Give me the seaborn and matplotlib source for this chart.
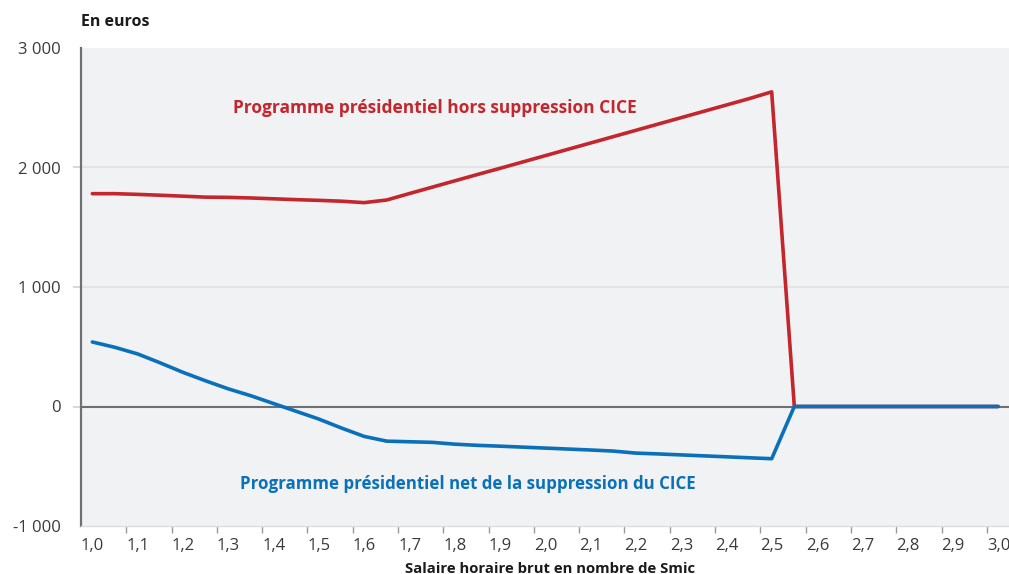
"""Programme présidentiel : gain par salarié selon le salaire horaire brut."""
import matplotlib.pyplot as plt
import pandas as pd
import seaborn as sns

# salaire horaire brut en nombre de Smic (points tous les 0,05 Smic, tracés au milieu de chaque pas)
SMIC = [1.025, 1.075, 1.125, 1.175, 1.225, 1.275, 1.325, 1.375, 1.425, 1.475,
        1.525, 1.575, 1.625, 1.675, 1.725, 1.775, 1.825, 1.875, 1.925, 1.975,
        2.025, 2.075, 2.125, 2.175, 2.225, 2.275, 2.325, 2.375, 2.425, 2.475,
        2.525, 2.575, 2.625, 2.675, 2.725, 2.775, 2.825, 2.875, 2.925, 2.975,
        3.025]
HORS_CICE = [1781, 1781, 1775, 1768, 1760, 1752, 1750, 1745, 1738, 1731,
             1725, 1718, 1706, 1728, 1782, 1835, 1888, 1941, 1993, 2046,
             2099, 2152, 2205, 2258, 2311, 2364, 2417, 2470, 2523, 2576,
             2633, 0, 0, 0, 0, 0, 0, 0, 0, 0,
             0]
NET_CICE = [540, 495, 440, 365, 286, 215, 148, 90, 25, -40,
            -105, -180, -250, -290, -295, -300, -315, -325, -332, -340,
            -348, -356, -364, -373, -390, -397, -405, -413, -421, -429,
            -437, 0, 0, 0, 0, 0, 0, 0, 0, 0,
            0]
X_TICKS = [1.0, 1.1, 1.2, 1.3, 1.4, 1.5, 1.6, 1.7, 1.8, 1.9, 2.0,
           2.1, 2.2, 2.3, 2.4, 2.5, 2.6, 2.7, 2.8, 2.9, 3.0]
Y_TICKS = [-1000, 0, 1000, 2000, 3000]
LABEL_HORS = "Programme présidentiel hors suppression CICE"
LABEL_NET = "Programme présidentiel net de la suppression du CICE"

RED = "#c4262e"
BLUE = "#0a70b9"
TEXT = "#3a3a3a"

sns.set_theme(style="white")
plt.rcParams["font.family"] = ["Open Sans", "DejaVu Sans"]

df = pd.DataFrame({"smic": SMIC, "hors": HORS_CICE, "net": NET_CICE})

fig = plt.figure(figsize=(10.09, 5.74), dpi=100)
ax = fig.add_axes([81 / 1009, 48 / 574, 928 / 1009, 478 / 574])
ax.set_facecolor("#f1f2f4")

for y in [1000, 2000]:
    ax.axhline(y, color="#e1e2e5", lw=1.2, zorder=1)
ax.axhline(0, color="#707070", lw=1.5, zorder=2)

sns.lineplot(data=df, x="smic", y="hors", ax=ax, color=RED, lw=2.6, zorder=3)
sns.lineplot(data=df, x="smic", y="net", ax=ax, color=BLUE, lw=2.6, zorder=4)

ax.set_xlim(1.0, 3.049)
ax.set_ylim(-1000, 3000)
ax.set_xticks(X_TICKS)
ax.set_xticklabels([f"{t:.1f}".replace(".", ",") for t in X_TICKS], ha="left")
ax.set_yticks(Y_TICKS)
ax.set_yticklabels([f"{t:,}".replace(",", " ") for t in Y_TICKS])
ax.tick_params(axis="x", direction="out", length=5, width=1, color="#9a9a9a",
               labelsize=12, labelcolor=TEXT, pad=4, bottom=True)
ax.tick_params(axis="y", direction="out", length=6, width=1.2, color="#cfcfcf",
               labelsize=12, labelcolor=TEXT, pad=8.5, left=True)
yticks = ax.yaxis.get_major_ticks()
yticks[1].tick1line.set_color("#707070")
yticks[0].tick1line.set_visible(False)
yticks[-1].tick1line.set_visible(False)
ax.xaxis.get_major_ticks()[0].tick1line.set_visible(False)

for side in ["top", "right"]:
    ax.spines[side].set_visible(False)
ax.spines["left"].set_color("#707070")
ax.spines["left"].set_linewidth(1.6)
ax.spines["bottom"].set_color("#dcdde0")
ax.spines["bottom"].set_linewidth(1)

ax.set_xlabel("Salaire horaire brut en nombre de Smic", fontsize=10.7, fontweight="bold",
              color="#1a1a1a", labelpad=4)
ax.xaxis.set_label_coords((550 - 81) / 928, -0.075)
ax.set_ylabel("")

ax.text(1.336, 2497, LABEL_HORS, color=RED, fontsize=12.5, fontweight="bold", va="center")
ax.text(1.352, -651, LABEL_NET, color=BLUE, fontsize=12.2, fontweight="bold", va="center")
fig.text(81 / 1009, 1 - 22 / 574, "En euros", fontsize=11.5, fontweight="bold",
         color="#1a1a1a", va="center")

fig.savefig("out.png", dpi=100, facecolor="white")
